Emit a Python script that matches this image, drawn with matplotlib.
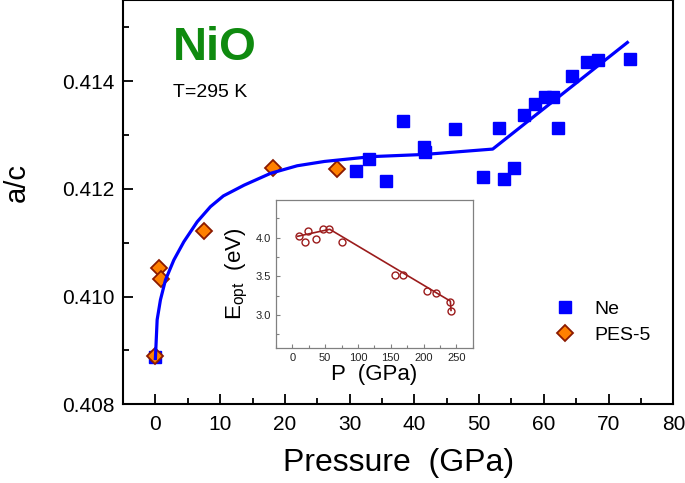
import numpy as np
import matplotlib.pyplot as plt
from matplotlib.ticker import MultipleLocator

plt.rcParams['font.family'] = ['Liberation Sans', 'DejaVu Sans']

# Ne pressure medium data
ne_p = [0.0, 31.0, 33.0, 35.6, 38.3, 41.5, 41.7, 46.3, 50.6, 53.0, 53.9,
        55.4, 56.9, 58.6, 60.2, 61.4, 62.2, 64.4, 66.7, 68.4, 73.3]
ne_ac = [0.40888, 0.41233, 0.41255, 0.41215, 0.41326, 0.41278, 0.41269,
         0.41312, 0.41222, 0.41313, 0.41218, 0.41239, 0.41337, 0.41358,
         0.41370, 0.41371, 0.41313, 0.41409, 0.41436, 0.41439, 0.41441]

# PES-5 pressure medium data
pes_p = [0.0, 0.55, 0.9, 7.5, 18.1, 28.0]
pes_ac = [0.40889, 0.41053, 0.41032, 0.41121, 0.41238, 0.41237]

# fit line through the data
fit_p = [0.0, 0.27, 0.78, 1.56, 2.85, 4.4, 6.46, 8.5, 10.5, 13.7, 17.8,
         21.9, 26.1, 33.4, 41.5, 52.1, 72.9]
fit_ac = [0.40885, 0.40957, 0.40994, 0.41031, 0.41068, 0.41102, 0.41139,
          0.41167, 0.41187, 0.41207, 0.41229, 0.41243, 0.41251, 0.41260,
          0.41264, 0.41274, 0.41472]

# inset: optical gap vs pressure
ins_p = [10.2, 19.8, 24.4, 36.5, 47.1, 55.8, 75.6, 156.6, 168.8, 205.9,
         219.0, 239.8, 242.4]
ins_e = [4.02, 3.95, 4.09, 3.99, 4.12, 4.11, 3.94, 3.52, 3.52, 3.31,
         3.28, 3.17, 3.05]
ins_fit_p = [8, 57, 241, 242]
ins_fit_e = [4.02, 4.11, 3.18, 3.06]

fig = plt.figure(figsize=(6.85, 4.83), dpi=100)
ax = fig.add_axes([0.1796, 0.163, 0.8034, 0.836])

ax.plot(ne_p, ne_ac, 's', color='#0000ff', markersize=8.6, label='Ne', zorder=3)
ax.plot(pes_p, pes_ac, 'D', color='#ff8000', markeredgecolor='#8b1a00',
        markeredgewidth=1.3, markersize=8.4, label='PES-5', zorder=4)
ax.plot(fit_p, fit_ac, '-', color='#0000ff', linewidth=2.3, zorder=5)

ax.set_xlim(-5, 80)
ax.set_ylim(0.408, 0.4155)
ax.xaxis.set_major_locator(MultipleLocator(10))
ax.xaxis.set_minor_locator(MultipleLocator(5))
ax.yaxis.set_major_locator(MultipleLocator(0.002))
ax.yaxis.set_minor_locator(MultipleLocator(0.001))
ax.tick_params(which='both', direction='in', labelsize=15, width=1.3)
ax.tick_params(which='major', length=7)
ax.tick_params(which='minor', length=4)
ax.tick_params(axis='x', which='major', pad=8)
ax.tick_params(axis='y', which='major', pad=6)
ax.yaxis.set_major_formatter(plt.FormatStrFormatter('%.3f'))
for s in ax.spines.values():
    s.set_linewidth(1.5)

ax.set_xlabel('Pressure  (GPa)', fontsize=23, labelpad=10)
ax.set_ylabel('a/c', fontsize=21)
ax.yaxis.set_label_coords(-0.168, 0.55)

ax.text(0.09, 0.852, 'NiO', transform=ax.transAxes, fontsize=34,
        fontweight='bold', color='#0f8a0f', va='baseline')
ax.text(0.091, 0.760, 'T=295 K', transform=ax.transAxes, fontsize=14,
        va='baseline')

ax.legend(loc='upper left', bbox_to_anchor=(0.785, 0.258), frameon=False,
          fontsize=14, handlelength=1.0, handletextpad=1.0, labelspacing=0.45,
          borderpad=0, borderaxespad=0)

# inset
ins = fig.add_axes([0.403, 0.279, 0.287, 0.307])
ins.plot(ins_p, ins_e, 'o', markerfacecolor='none', markeredgecolor='#9b1c1c',
         markersize=5, markeredgewidth=1.0)
ins.plot(ins_fit_p, ins_fit_e, '-', color='#9b1c1c', linewidth=1.2)
ins.set_xlim(-25, 275)
ins.set_ylim(2.57, 4.49)
ins.xaxis.set_major_locator(MultipleLocator(50))
ins.xaxis.set_minor_locator(MultipleLocator(25))
ins.yaxis.set_major_locator(MultipleLocator(0.5))
ins.yaxis.set_minor_locator(MultipleLocator(0.25))
ins.tick_params(which='both', direction='in', labelsize=8, color='#808080',
                labelcolor='#222222', width=0.8)
ins.tick_params(which='major', length=3)
ins.tick_params(which='minor', length=2)
ins.yaxis.set_major_formatter(plt.FormatStrFormatter('%.1f'))
for s in ins.spines.values():
    s.set_color('#808080')
    s.set_linewidth(0.9)
ins.set_xlabel('P  (GPa)', fontsize=16, labelpad=1)
ins.set_ylabel(r'$\mathregular{E_{opt}}$  (eV)', fontsize=16, labelpad=4)

fig.savefig('out.png', dpi=100)
